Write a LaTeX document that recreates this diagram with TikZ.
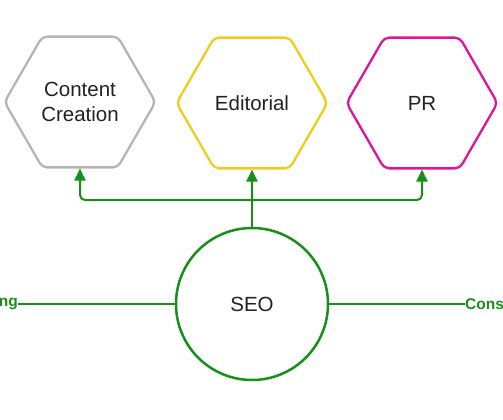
\documentclass[tikz,border=0pt]{standalone}
\usepackage{fontspec}
\setmainfont{Liberation Sans}
\usetikzlibrary{arrows.meta,shapes.geometric}
\definecolor{seogreen}{HTML}{17901A}
\definecolor{hexgray}{HTML}{B5B5B5}
\definecolor{hexyellow}{HTML}{F0CD1C}
\definecolor{hexpink}{HTML}{E0139E}
\definecolor{txt}{HTML}{222222}
\tikzset{
  hexbox/.style={regular polygon, regular polygon sides=6, minimum size=151pt,
    inner sep=0pt, line width=2.3pt, rounded corners=5pt, text=txt,
    align=center, font=\fontsize{20.5}{25}\selectfont},
  seocircle/.style={circle, minimum size=152pt, inner sep=0pt, draw=seogreen,
    line width=2.5pt, text=txt, font=\fontsize{20.5}{25}\selectfont},
  conn/.style={draw=seogreen, line width=2pt},
  arr/.style={conn, -{Triangle[length=12pt,width=11pt]}, rounded corners=5pt},
  sidelbl/.style={inner sep=0pt, text=seogreen, font=\fontsize{15.5}{18}\selectfont\bfseries}
}
\begin{document}
\begin{tikzpicture}[x=1pt,y=-1pt]
\useasboundingbox (0,0) rectangle (503,420);
\clip (0,0) rectangle (503,420);
\node[hexbox, draw=hexgray] (cc) at (80,102) {Content\\Creation};
\node[hexbox, draw=hexyellow] (ed) at (252,103) {Editorial};
\node[hexbox, draw=hexpink] (pr) at (422,103) {PR};
\node[seocircle] (seo) at (252,304) {SEO};
\coordinate (j) at (252,200);
\draw[conn] (seo.north) -- (j);
\draw[arr] (j) -| (cc.south);
\draw[arr] (j) -- (ed.south);
\draw[arr] (j) -| (pr.south);
\node[sidelbl, anchor=east] (l) at (18,304) {ng};
\node[sidelbl, anchor=west] (r) at (465,304) {Cons};
\draw[conn] (l.east) -- (seo.west);
\draw[conn] (seo.east) -- (r.west);
\end{tikzpicture}
\end{document}
